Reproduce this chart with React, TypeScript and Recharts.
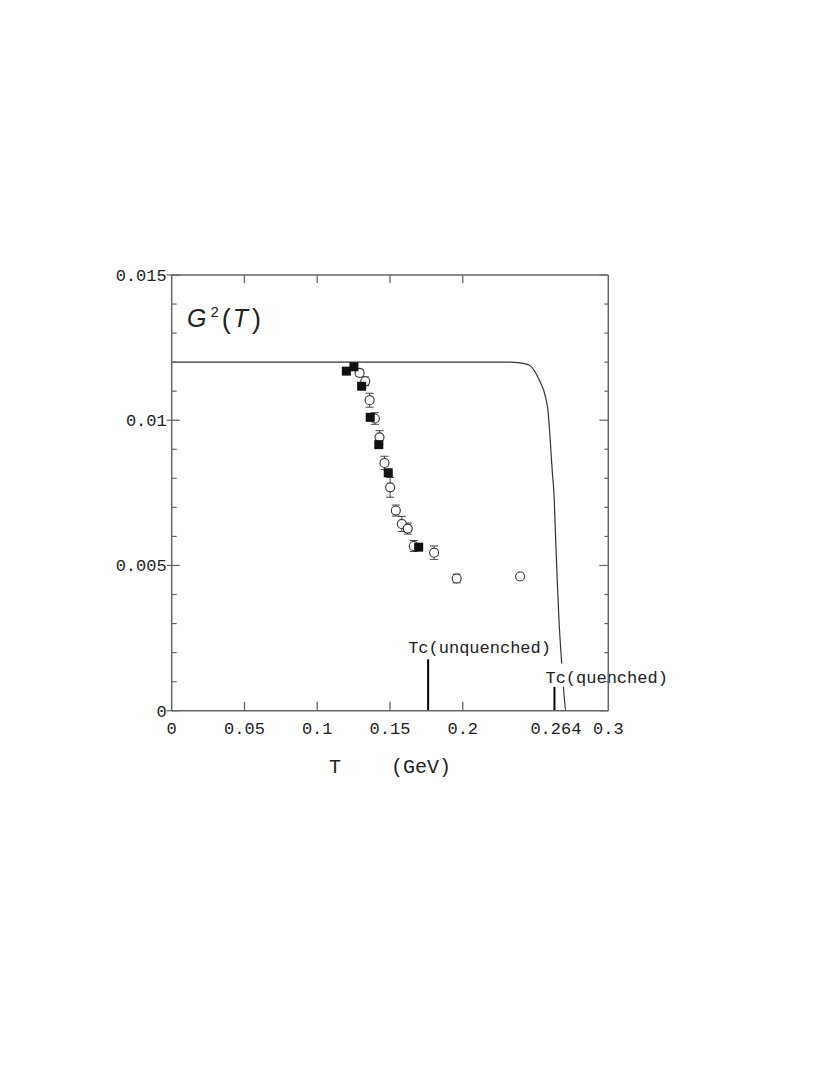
import React from "react";
import {
  ComposedChart,
  Line,
  Scatter,
  ErrorBar,
  XAxis,
  YAxis,
  ReferenceLine,
  Customized,
} from "recharts";

// model curve G^2(T)
const curveT = [0, 0.05, 0.1, 0.15, 0.2, 0.225, 0.232, 0.236, 0.2415, 0.2456, 0.2524, 0.257, 0.2586, 0.26, 0.2615, 0.2627, 0.264, 0.2649, 0.2661, 0.2679, 0.2695, 0.2708, 0.28, 0.3];
const curveG = [0.012, 0.012, 0.012, 0.012, 0.012, 0.012, 0.012, 0.01199, 0.01196, 0.0119, 0.0114, 0.01077, 0.01031, 0.00939, 0.00824, 0.00744, 0.00566, 0.00451, 0.00313, 0.00169, 0.0006, 0, 0, 0];

// open circles (with errors)
const circT = [0.1291, 0.133, 0.136, 0.1396, 0.1428, 0.1462, 0.1501, 0.154, 0.1581, 0.1622, 0.1663, 0.1803, 0.1958, 0.2394];
const circG = [0.01163, 0.01134, 0.01069, 0.01006, 0.00941, 0.00853, 0.00769, 0.00689, 0.00643, 0.00627, 0.00567, 0.00544, 0.00455, 0.00462];
const circErr = [0.00012, 0.00015, 0.00024, 0.0002, 0.00023, 0.00023, 0.00034, 0.00019, 0.00026, 0.00019, 0.00019, 0.00023, 0.00015, 0];

// filled squares
const sqT = [0.12, 0.1252, 0.1305, 0.1364, 0.1423, 0.1488, 0.1697];
const sqG = [0.01169, 0.01184, 0.01117, 0.0101, 0.00916, 0.00819, 0.00563];

const xTicks = [0, 0.05, 0.1, 0.15, 0.2, 0.264, 0.3];
const yTicks = [0, 0.001, 0.002, 0.003, 0.004, 0.005, 0.006, 0.007, 0.008, 0.009, 0.01, 0.011, 0.012, 0.013, 0.014, 0.015];

const tcUnquenched = { T: 0.1762, h: 0.00177, label: "Tc(unquenched)" };
const tcQuenched = { T: 0.263, h: 0.00083, label: "Tc(quenched)" };

const curve = curveT.map((T, i) => ({ T, G: curveG[i] }));
const circles = circT.map((T, i) => ({ T, G: circG[i], err: circErr[i] }));
const squares = sqT.map((T, i) => ({ T, G: sqG[i] }));

const MONO = "'Liberation Mono', 'Courier New', monospace";
const SANS = "'Liberation Sans', Arial, sans-serif";
const AXIS = "#666";
const PLOT_H = 435.7;

const isMajorY = (v: number) => Math.round(v * 1000) % 5 === 0;

// bottom labels + inward ticks on bottom and top frame
const BottomTick = (p: any) => {
  const v = p.payload.value;
  const mark = v > 0 && v < 0.25;
  return (
    <g>
      {mark && <line x1={p.x} x2={p.x} y1={p.y} y2={p.y - 9} stroke={AXIS} strokeWidth={1.3} />}
      {mark && (
        <line x1={p.x} x2={p.x} y1={p.y - PLOT_H} y2={p.y - PLOT_H + 8} stroke={AXIS} strokeWidth={1.3} />
      )}
      <text x={p.x} y={p.y + 23} textAnchor="middle" fontFamily={MONO} fontSize={17} fill="#222">
        {String(v)}
      </text>
    </g>
  );
};

const LeftTick = (p: any) => {
  const v = p.payload.value;
  if (!isMajorY(v)) {
    return <line x1={p.x} x2={p.x + 5} y1={p.y} y2={p.y} stroke={AXIS} strokeWidth={1.2} />;
  }
  return (
    <g>
      <line x1={p.x - 5} x2={p.x + 8} y1={p.y} y2={p.y} stroke={AXIS} strokeWidth={1.3} />
      <text x={p.x - 5} y={p.y} dy="0.35em" textAnchor="end" fontFamily={MONO} fontSize={17} fill="#222">
        {String(v)}
      </text>
    </g>
  );
};

const RightTick = (p: any) => {
  const len = isMajorY(p.payload.value) ? 9 : 4;
  return <line x1={p.x} x2={p.x - len} y1={p.y} y2={p.y} stroke={AXIS} strokeWidth={1.2} />;
};

const TcLabel = (p: any) => {
  const vb = p.viewBox || {};
  const x = vb.x + p.dx;
  const y = vb.y + p.dy;
  return (
    <g>
      {p.box && <rect x={x - 2} y={y - 19} width={p.box} height={23} fill="#fff" />}
      <text x={x} y={y} fontFamily={MONO} fontSize={17} fill="#222">
        {p.text}
      </text>
    </g>
  );
};

const circleShape = (p: any) => (
  <circle cx={p.cx} cy={p.cy} r={4.5} fill="#fff" stroke="#333" strokeWidth={1.1} />
);
const squareShape = (p: any) => (
  <rect x={p.cx - 4.5} y={p.cy - 4.5} width={9} height={9} fill="#111" />
);

const Overlay = () => (
  <g fill="#222">
    <text x={179} y={319} fontFamily={SANS} fontSize={25}>
      <tspan fontStyle="italic">G</tspan>
      <tspan fontSize={15} dx={4} dy={-10}>2</tspan>
      <tspan fontSize={27} dx={3} dy={11}>(</tspan>
      <tspan fontStyle="italic" dx={2} dy={-1}>T</tspan>
      <tspan fontSize={27} dx={4} dy={1}>)</tspan>
    </text>
    <text x={327} y={765} textAnchor="middle" fontFamily={MONO} fontSize={20}>T</text>
    <text x={383} y={765} fontFamily={MONO} fontSize={20}>(GeV)</text>
  </g>
);

export default function App() {
  return (
    <div style={{ width: 808, height: 900 }}>
      <ComposedChart
        width={808}
        height={900}
        margin={{ top: 266, right: 206.7, bottom: 157.3, left: 103.7 }}
      >
        <XAxis
          xAxisId="b"
          type="number"
          dataKey="T"
          domain={[0, 0.3]}
          ticks={xTicks}
          interval={0}
          height={40}
          tickLine={false}
          tickSize={0}
          tickMargin={0}
          tick={BottomTick}
          axisLine={{ stroke: AXIS, strokeWidth: 1.5 }}
          allowDataOverflow
        />
        <XAxis
          xAxisId="t"
          orientation="top"
          type="number"
          dataKey="T"
          domain={[0, 0.3]}
          height={1}
          tick={false}
          tickLine={false}
          axisLine={{ stroke: AXIS, strokeWidth: 1.5 }}
        />
        <YAxis
          yAxisId="l"
          type="number"
          domain={[0, 0.015]}
          ticks={yTicks}
          interval={0}
          width={60}
          tickLine={false}
          tickSize={0}
          tickMargin={0}
          tick={LeftTick}
          axisLine={{ stroke: AXIS, strokeWidth: 1.5 }}
          allowDataOverflow
        />
        <YAxis
          yAxisId="r"
          orientation="right"
          type="number"
          domain={[0, 0.015]}
          ticks={yTicks}
          interval={0}
          width={1}
          tickLine={false}
          tickSize={0}
          tickMargin={0}
          tick={RightTick}
          axisLine={{ stroke: AXIS, strokeWidth: 1.5 }}
        />
        <Line
          xAxisId="b"
          yAxisId="l"
          data={curve}
          dataKey="G"
          type="monotone"
          stroke="#333"
          strokeWidth={1.2}
          dot={false}
          isAnimationActive={false}
        />
        <Line
          xAxisId="t"
          yAxisId="r"
          data={curve}
          dataKey="G"
          stroke="none"
          dot={false}
          isAnimationActive={false}
        />
        <Scatter
          xAxisId="b"
          yAxisId="l"
          data={circles.filter((c) => c.err > 0)}
          dataKey="G"
          shape={circleShape}
          isAnimationActive={false}
        >
          <ErrorBar dataKey="err" direction="y" width={4} stroke="#444" strokeWidth={1} />
        </Scatter>
        <Scatter
          xAxisId="b"
          yAxisId="l"
          data={circles.filter((c) => c.err === 0)}
          dataKey="G"
          shape={circleShape}
          isAnimationActive={false}
        />
        <Scatter
          xAxisId="b"
          yAxisId="l"
          data={squares}
          dataKey="G"
          shape={squareShape}
          isAnimationActive={false}
        />
        <ReferenceLine
          xAxisId="b"
          yAxisId="l"
          segment={[
            { x: tcUnquenched.T, y: 0 },
            { x: tcUnquenched.T, y: tcUnquenched.h },
          ]}
          stroke="#000"
          strokeWidth={2}
          label={<TcLabel text={tcUnquenched.label} dx={-20} dy={-6} />}
        />
        <ReferenceLine
          xAxisId="b"
          yAxisId="l"
          segment={[
            { x: tcQuenched.T, y: 0 },
            { x: tcQuenched.T, y: tcQuenched.h },
          ]}
          stroke="#000"
          strokeWidth={2}
          label={<TcLabel text={tcQuenched.label} dx={-9} dy={-4} box={124} />}
        />
        <Customized component={Overlay} />
      </ComposedChart>
    </div>
  );
}
